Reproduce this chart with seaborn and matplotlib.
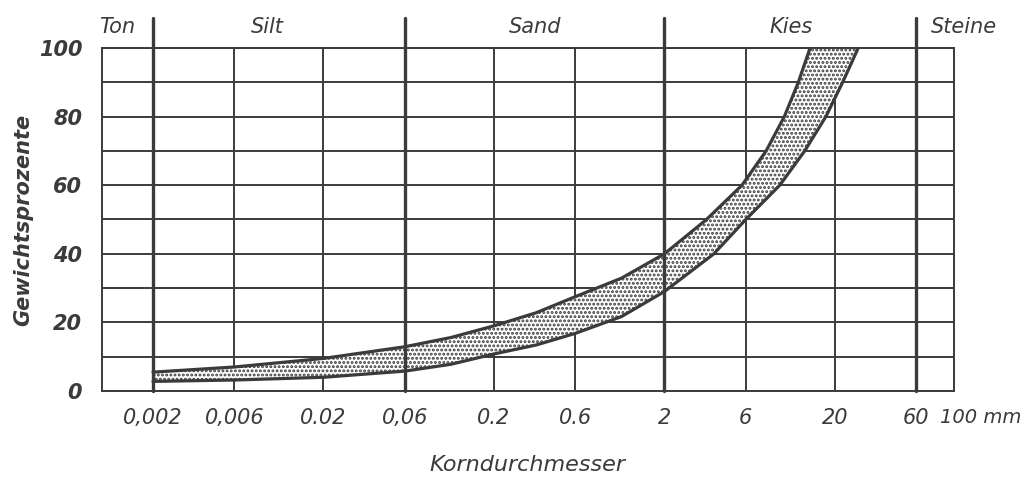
import matplotlib
matplotlib.use("Agg")
import matplotlib.pyplot as plt
import matplotlib.transforms as mtransforms
import seaborn as sns

# ------------- Körnungsband (Sieblinie) -----------------------
# upper boundary of the band (fine side)
d_upper = [0.002, 0.006, 0.02, 0.06, 0.112, 0.2, 0.353, 0.6, 1.12, 2, 3.53, 5.7, 7.9, 10.1, 12.2, 14.3]
p_upper = [5.5, 7, 9.5, 12.9, 15.6, 19, 22.8, 27.5, 32.9, 40, 50, 60, 70, 80, 90, 100]
# lower boundary of the band (coarse side)
d_lower = [0.002, 0.006, 0.02, 0.06, 0.112, 0.2, 0.353, 0.6, 1.12, 2, 3.9, 6, 9.5, 13.3, 17.7, 22.2, 27.4]
p_lower = [2.8, 3.2, 4.0, 5.8, 7.8, 10.8, 13.4, 16.8, 21.7, 29, 40, 50, 60, 70, 80, 90, 100]

x_ticks = [0.002, 0.006, 0.02, 0.06, 0.2, 0.6, 2, 6, 20, 60, 100]
x_labels = ['0,002', '0,006', '0.02', '0,06', '0.2', '0.6', '2', '6', '20', '60', '100 mm']
boundaries = [0.002, 0.06, 2, 60]
zones = ['Ton', 'Silt', 'Sand', 'Kies', 'Steine']
zone_x = [0.00123, 0.0094, 0.35, 11, 115]
y_ticks = list(range(0, 101, 10))
y_labels = [str(v) if v % 20 == 0 else '' for v in y_ticks]

ink = '#3b3b3b'
sns.set_style('white')
plt.rcParams['font.family'] = ['DejaVu Sans']
plt.rcParams['hatch.linewidth'] = 1.4

fig = plt.figure(figsize=(10.27, 4.78), dpi=100)
ax = fig.add_axes([0.099, 0.182, 0.830, 0.7176])
ax.set_xscale('log')
ax.set_xlim(0.001, 100)
ax.set_ylim(0, 100)

# grid
ax.set_xticks(x_ticks)
ax.set_xticklabels(x_labels, fontstyle='italic', fontsize=15, color=ink)
ax.set_yticks(y_ticks)
ax.set_yticklabels(y_labels, fontstyle='italic', fontsize=15, fontweight='bold', color=ink)
ax.minorticks_off()
ax.tick_params(length=0)
ax.tick_params(axis='x', pad=12)
ax.tick_params(axis='y', pad=14)
ax.grid(True, color=ink, linewidth=1.4)
for s in ax.spines.values():
    s.set_color(ink)
    s.set_linewidth(1.4)

# "100 mm" sits right of its gridline
lab = ax.get_xticklabels()[-1]
lab.set_ha('left')
lab.set_fontsize(14)
lab.set_transform(lab.get_transform() + mtransforms.ScaledTranslation(-14 / 100, 0, fig.dpi_scale_trans))

# main boundaries, drawn through the header
for b in boundaries:
    ax.axvline(b, ymin=0, ymax=1.087, color=ink, linewidth=2.4, clip_on=False, zorder=3)
for name, xz in zip(zones, zone_x):
    ax.text(xz, 1.062, name, transform=ax.get_xaxis_transform(), ha='center', va='center',
            fontsize=15, fontstyle='italic', color=ink)

# stippled band
poly_x = d_upper + d_lower[::-1]
poly_y = p_upper + p_lower[::-1]
ax.fill(poly_x, poly_y, facecolor='white', edgecolor=ink, linewidth=0, hatch='....', zorder=2)
sns.lineplot(x=d_upper, y=p_upper, sort=False, estimator=None, color=ink, linewidth=2.3, ax=ax, zorder=4)
sns.lineplot(x=d_lower, y=p_lower, sort=False, estimator=None, color=ink, linewidth=2.3, ax=ax, zorder=4)

ax.set_xlabel('Korndurchmesser', fontsize=16, fontstyle='italic', color=ink, labelpad=20)
ax.set_ylabel('Gewichtsprozente', fontsize=15, fontstyle='italic', fontweight='bold', color=ink, labelpad=4)

fig.savefig('out.png', dpi=100)
plt.close()
